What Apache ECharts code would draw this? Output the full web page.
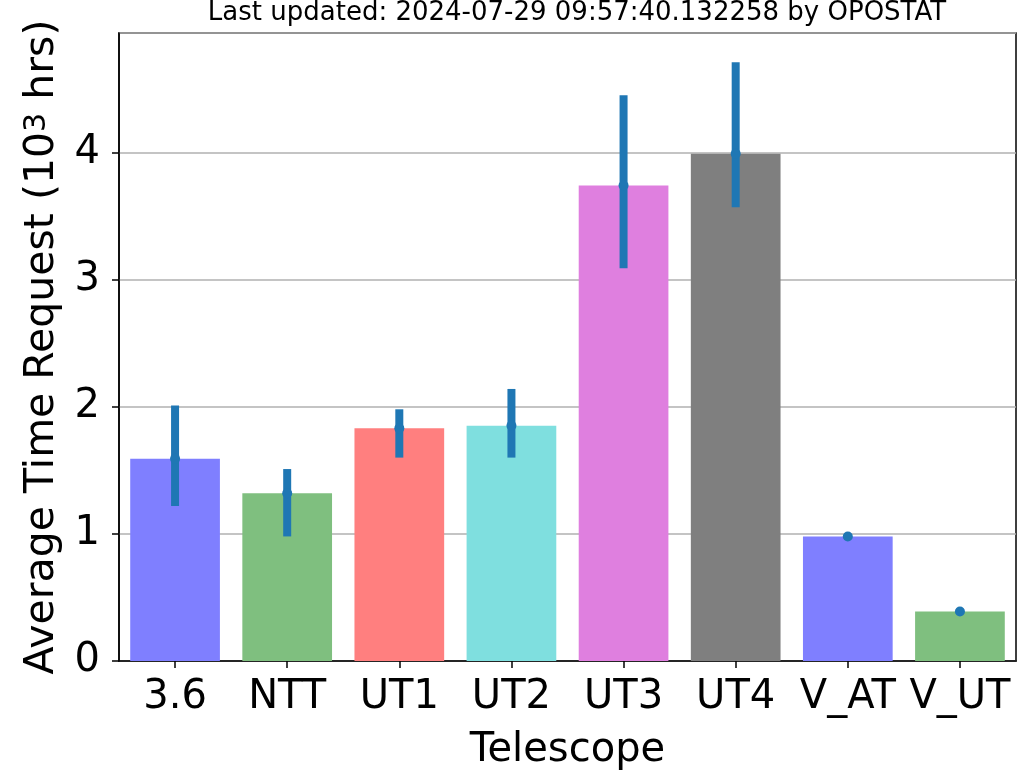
<!DOCTYPE html>
<html>
<head>
<meta charset="utf-8">
<script src="https://cdn.jsdelivr.net/npm/echarts@6/dist/echarts.min.js"></script>
<style>
  html, body { margin: 0; padding: 0; background: #fff; }
  #chart { width: 1020px; height: 771px; }
</style>
</head>
<body>
<div id="chart"></div>
<script>
var telescopes = ['3.6', 'NTT', 'UT1', 'UT2', 'UT3', 'UT4', 'V_AT', 'V_UT'];
var meanRequest = [1.59, 1.32, 1.83, 1.85, 3.74, 3.99, 0.98, 0.39];
var errLow = [1.22, 0.98, 1.60, 1.60, 3.09, 3.57, 0.98, 0.37];
var errHigh = [2.01, 1.51, 1.98, 2.14, 4.45, 4.71, 0.98, 0.41];
var barColors = ['#7f7fff', '#7fbf7f', '#ff7f7f', '#7fdfdf', '#df7fdf', '#7f7f7f', '#7f7fff', '#7fbf7f'];

var font = 'DejaVu Sans';
var chart = echarts.init(document.getElementById('chart'));

var errData = [];
for (var i = 0; i < telescopes.length; i++) {
  errData.push([i, errLow[i], errHigh[i], meanRequest[i]]);
}

chart.setOption({
  animation: false,
  title: {
    text: 'Last updated: 2024-07-29 09:57:40.132258 by OPOSTAT',
    left: 572, top: -5, textAlign: 'center',
    textStyle: { fontFamily: font, fontSize: 26, fontWeight: 'normal', color: '#000' }
  },
  grid: {
    left: 119, right: 4, top: 33, bottom: 110,
    outerBoundsMode: 'none',
    show: true, borderColor: '#000', borderWidth: 1.5, backgroundColor: 'transparent'
  },
  xAxis: {
    type: 'category',
    data: telescopes,
    name: 'Telescope',
    nameLocation: 'middle',
    nameGap: 70,
    nameTextStyle: { fontFamily: font, fontSize: 40, color: '#000' },
    axisLine: { show: true, lineStyle: { color: '#000', width: 1.5 } },
    axisTick: { show: true, alignWithLabel: true, length: 7, lineStyle: { color: '#000', width: 1.5 } },
    axisLabel: { fontFamily: font, fontSize: 40, color: '#000', margin: 17, interval: 0 },
    splitLine: { show: false }
  },
  yAxis: {
    type: 'value',
    min: 0, max: 4.94, interval: 1,
    name: 'Average Time Request (10{sup|3} hrs)',
    nameLocation: 'middle',
    nameGap: 56,
    nameRotate: 90,
    nameTextStyle: {
      fontFamily: font, fontSize: 41, color: '#000',
      rich: {
        sup: { fontFamily: font, fontSize: 30, color: '#000', verticalAlign: 'top', lineHeight: 41 }
      }
    },
    axisLine: { show: true, lineStyle: { color: '#000', width: 1.5 } },
    axisTick: { show: true, length: 7, lineStyle: { color: '#000', width: 1.5 } },
    axisLabel: { fontFamily: font, fontSize: 40, color: '#000', margin: 19, showMaxLabel: false },
    splitLine: { show: true, lineStyle: { color: '#b0b0b0', width: 1.5 } }
  },
  series: [
    {
      type: 'bar',
      data: meanRequest.map(function (v, i) {
        return { value: v, itemStyle: { color: barColors[i] } };
      }),
      barWidth: '80%',
      z: 2
    },
    {
      type: 'custom',
      data: errData,
      z: 5,
      renderItem: function (params, api) {
        var x = api.value(0);
        var lo = api.coord([x, api.value(1)]);
        var hi = api.coord([x, api.value(2)]);
        var mid = api.coord([x, api.value(3)]);
        return {
          type: 'group',
          children: [
            {
              type: 'line',
              shape: { x1: lo[0], y1: lo[1], x2: hi[0], y2: hi[1] },
              style: { stroke: '#1f77b4', lineWidth: 8 }
            },
            {
              type: 'circle',
              shape: { cx: mid[0], cy: mid[1], r: 5 },
              style: { fill: '#1f77b4' }
            }
          ]
        };
      }
    }
  ]
});
</script>
</body>
</html>
